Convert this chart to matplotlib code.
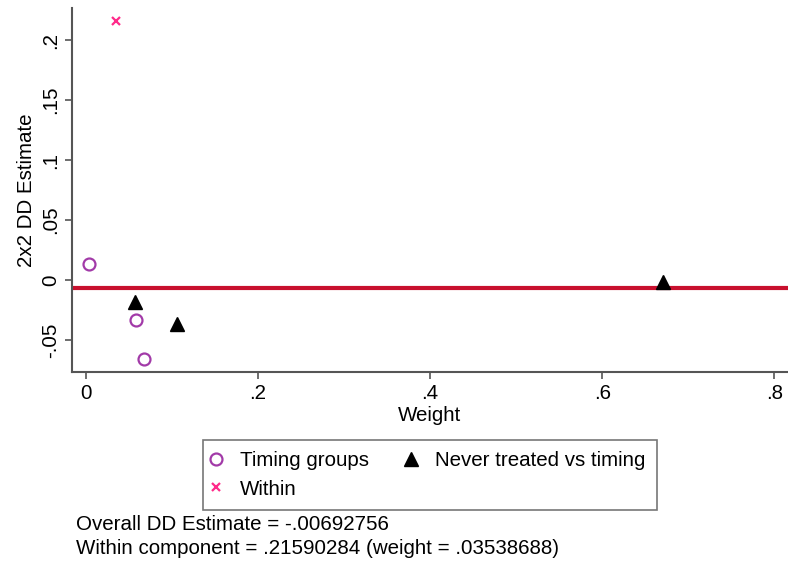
import matplotlib
matplotlib.use('Agg')
import matplotlib.pyplot as plt

# 2x2 DD decomposition values
timing_w = [0.0035, 0.058, 0.067]
timing_est = [0.0133, -0.033, -0.066]
never_w = [0.057, 0.106, 0.671]
never_est = [-0.018, -0.037, -0.0015]
within_w = [0.03538688]
within_est = [0.21590284]
overall = -0.00692756

plt.rcParams['font.family'] = ['Liberation Sans', 'DejaVu Sans']
fs = 14.8
grey = '#555555'

fig = plt.figure(figsize=(7.88, 5.61), dpi=100)
ax = fig.add_axes([72 / 788, 1 - 372 / 561, 716 / 788, 364 / 561])

ax.axhline(overall, color='#c8102e', linewidth=3, zorder=1)
ax.plot(timing_w, timing_est, linestyle='none', marker='o', markersize=8.6,
        markerfacecolor='none', markeredgecolor='#a23aa8', markeredgewidth=1.6,
        label='Timing groups')
ax.plot(within_w, within_est, linestyle='none', marker='x', markersize=6,
        color='#ff2a8a', markeredgewidth=1.6, label='Within')
ax.plot(never_w, never_est, linestyle='none', marker='^', markersize=9.5,
        color='black', label='Never treated vs timing')

ax.set_xlim(-0.0163, 0.816)
ax.set_ylim(-0.0767, 0.2267)
ax.set_xticks([0, 0.2, 0.4, 0.6, 0.8])
ax.set_xticklabels(['0', '.2', '.4', '.6', '.8'])
ax.set_yticks([-0.05, 0, 0.05, 0.1, 0.15, 0.2])
ax.set_yticklabels(['-.05', '0', '.05', '.1', '.15', '.2'], rotation=90, va='center')
ax.tick_params(labelsize=fs, color=grey, length=5, width=1.2)
for side in ['top', 'right']:
    ax.spines[side].set_visible(False)
for side in ['left', 'bottom']:
    ax.spines[side].set_color(grey)
    ax.spines[side].set_linewidth(1.5)

ax.set_xlabel('Weight', fontsize=fs, labelpad=2)
ax.set_ylabel('2x2 DD Estimate', fontsize=fs, labelpad=4)

handles, labels = ax.get_legend_handles_labels()
leg = fig.legend(handles, labels, ncol=2, loc='upper center',
                 bbox_to_anchor=(430 / 788, 1 - 440 / 561), fontsize=fs,
                 frameon=True, fancybox=False, edgecolor=grey,
                 handlelength=0.2, handletextpad=1.07, columnspacing=1.95,
                 labelspacing=0.45, borderpad=0.55, borderaxespad=0)
leg.get_frame().set_linewidth(1.2)

fig.text(76 / 788, 1 - 524 / 561, 'Overall DD Estimate = -.00692756',
         fontsize=fs, va='center')
fig.text(76 / 788, 1 - 548 / 561, 'Within component = .21590284 (weight = .03538688)',
         fontsize=fs, va='center')

fig.savefig('out.png', dpi=100)
